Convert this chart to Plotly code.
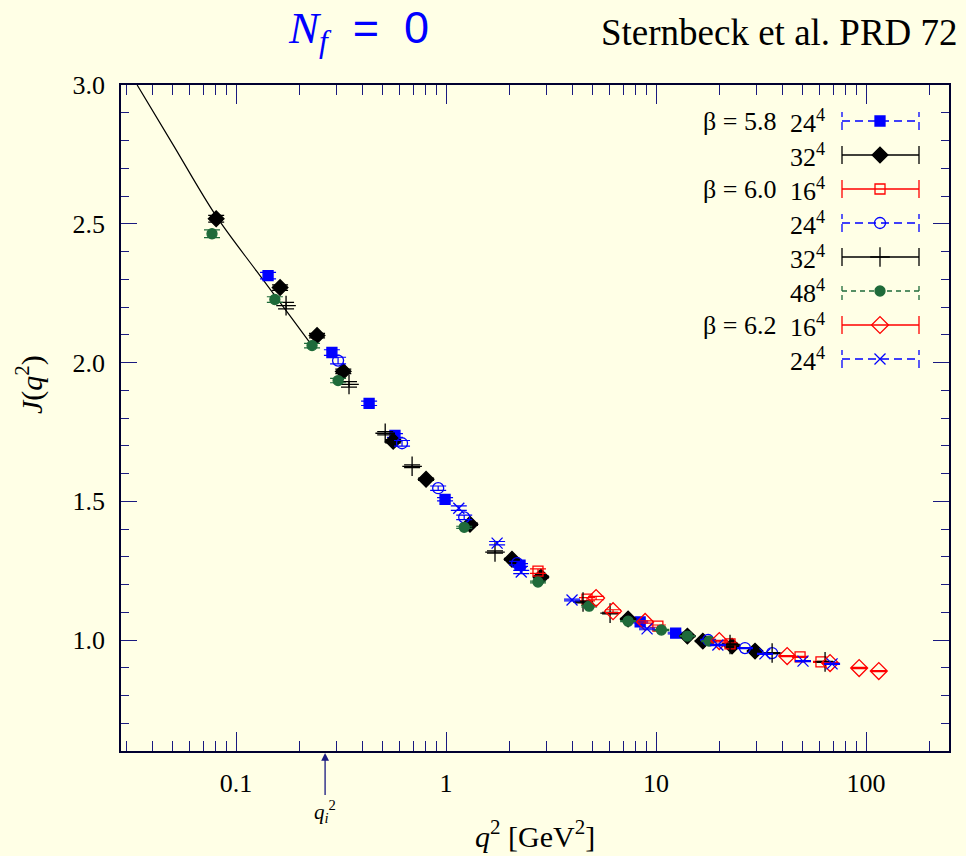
import math
import plotly.graph_objects as go

# ---------------- data: q^2 [GeV^2] and J(q^2) ----------------
# beta = 5.8, 24^4  (blue filled squares)
q_b58_24 = [0.142, 0.286, 0.430, 0.571, 0.989, 2.25, 8.4, 12.4]
j_b58_24 = [2.313, 2.036, 1.853, 1.737, 1.507, 1.270, 1.065, 1.025]
e_b58_24 = [0.012, 0.010, 0.008, 0.007, 0.006, 0.005, 0.003, 0.003]

# beta = 5.8, 32^4  (black diamonds)
q_b58_32 = [0.0804, 0.162, 0.243, 0.324, 0.560, 0.803, 1.30, 2.06, 2.83, 7.36, 14.1, 16.7, 23.0, 29.6]
j_b58_32 = [2.518, 2.270, 2.097, 1.968, 1.716, 1.579, 1.417, 1.291, 1.227, 1.076, 1.014, 0.996, 0.978, 0.960]
e_b58_32 = [0.012, 0.010, 0.008, 0.008, 0.006, 0.004, 0.004, 0.003, 0.003, 0.002, 0.002, 0.002, 0.002, 0.002]

# beta = 6.0, 16^4  (red open squares)
q_b60_16 = [2.74, 4.69, 10.2, 22.5, 48.5, 61.0]
j_b60_16 = [1.248, 1.147, 1.050, 0.986, 0.939, 0.921]
e_b60_16 = [0.008, 0.006, 0.004, 0.003, 0.002, 0.002]

# beta = 6.0, 24^4  (blue open circles)
q_b60_24 = [0.306, 0.617, 0.917, 1.22, 2.18, 17.7, 26.5, 35.7]
j_b60_24 = [2.007, 1.709, 1.547, 1.442, 1.277, 1.000, 0.971, 0.953]
e_b60_24 = [0.012, 0.010, 0.008, 0.008, 0.006, 0.002, 0.002, 0.002]

# beta = 6.0, 32^4  (black pluses)
q_b60_32 = [0.173, 0.345, 0.513, 0.689, 1.71, 4.49, 6.04, 22.5, 35.7, 63.8]
j_b60_32 = [2.205, 1.921, 1.745, 1.626, 1.317, 1.137, 1.097, 0.984, 0.953, 0.921]
e_b60_32 = [0.012, 0.010, 0.006, 0.005, 0.004, 0.003, 0.003, 0.002, 0.002, 0.002]

# beta = 6.0, 48^4  (green filled circles)
q_b60_48 = [0.0768, 0.153, 0.230, 0.306, 1.22, 2.74, 4.80, 7.36, 10.6, 14.1, 17.9]
j_b60_48 = [2.464, 2.227, 2.061, 1.935, 1.406, 1.209, 1.122, 1.068, 1.036, 1.014, 0.996]
e_b60_48 = [0.014, 0.010, 0.008, 0.008, 0.004, 0.003, 0.003, 0.002, 0.002, 0.002, 0.002]

# beta = 6.2, 16^4  (red open diamonds)
q_b62_16 = [5.18, 6.24, 8.87, 20.0, 42.1, 67.4, 92.7, 115.0]
j_b62_16 = [1.151, 1.104, 1.065, 0.996, 0.942, 0.917, 0.899, 0.888]
e_b62_16 = [0.006, 0.005, 0.004, 0.003, 0.002, 0.002, 0.002, 0.002]

# beta = 6.2, 24^4  (blue crosses)
q_b62_24 = [1.15, 1.75, 2.28, 3.98, 9.06, 19.7, 33.0, 50.1, 68.9]
j_b62_24 = [1.475, 1.349, 1.245, 1.144, 1.040, 0.982, 0.950, 0.924, 0.914]
e_b62_24 = [0.008, 0.006, 0.006, 0.003, 0.003, 0.002, 0.002, 0.002, 0.002]

# infrared fit curve
q_fit = [0.0338, 0.05, 0.08, 0.125, 0.18, 0.23]
j_fit = [3.0, 2.786, 2.53, 2.33, 2.17, 2.061]

# q_i^2 marker on the x axis
q_i2 = 0.254

x_ticks = [0.1, 1, 10, 100]
x_ticktext = ["0.1", "1", "10", "100"]
y_ticks = [1.0, 1.5, 2.0, 2.5, 3.0]
y_ticktext = ["1.0", "1.5", "2.0", "2.5", "3.0"]

legend_beta = ["β = 5.8", "", "β = 6.0", "", "", "", "β = 6.2", ""]
legend_lat = ["24", "32", "16", "24", "32", "48", "16", "24"]

# ---------------- styles ----------------
BG = "#FFFFE6"
NAVY = "#1A1A80"
GREEN = "#1F6B3A"
SERIF = "Liberation Serif"

series = [
    (q_b58_24, j_b58_24, e_b58_24, "square", 10, "#0000FF", "8px,5px"),
    (q_b58_32, j_b58_32, e_b58_32, "diamond", 12, "#000000", "solid"),
    (q_b60_16, j_b60_16, e_b60_16, "square-open", 10, "#FF0000", "solid"),
    (q_b60_24, j_b60_24, e_b60_24, "circle-open", 11, "#0000FF", "8px,5px"),
    (q_b60_32, j_b60_32, e_b60_32, "cross-thin-open", 14, "#000000", "solid"),
    (q_b60_48, j_b60_48, e_b60_48, "circle", 10, GREEN, "5px,4px"),
    (q_b62_16, j_b62_16, e_b62_16, "diamond-open", 13, "#FF0000", "solid"),
    (q_b62_24, j_b62_24, e_b62_24, "x-thin-open", 11, "#0000FF", "8px,5px"),
]

fig = go.Figure()

fig.add_trace(go.Scatter(
    x=q_fit, y=j_fit, mode="lines", line=dict(color="black", width=1.2, shape="spline"),
    showlegend=False, hoverinfo="skip"))

for q, j, e, sym, size, col, dash in series:
    fig.add_trace(go.Scatter(
        x=q, y=j, mode="markers",
        marker=dict(symbol=sym, size=size, color=col,
                    line=dict(color=col, width=1.3)),
        error_y=dict(type="data", array=e, visible=True, color=col,
                     thickness=1.2, width=8),
        showlegend=False))

# ---------------- hand-drawn key (overlay axes spanning the plot area) ----------------
W, H = 966, 856
L, R, T, B = 121, 949, 85, 751
pw, ph = R - L, B - T


def px_x(px):
    return (px - L) / pw


def px_y(py):
    return (B - py) / ph


xl, xm, xr = px_x(842), px_x(880), px_x(919)
cap = 9 / ph
for i, (q, j, e, sym, size, col, dash) in enumerate(series):
    yy = px_y(121 + 34 * i)
    fig.add_trace(go.Scatter(
        x=[xl, xr, None, xl, xl, None, xr, xr],
        y=[yy, yy, None, yy - cap, yy + cap, None, yy - cap, yy + cap],
        xaxis="x2", yaxis="y2", mode="lines",
        line=dict(color=col, width=1.3, dash=dash),
        showlegend=False, hoverinfo="skip"))
    fig.add_trace(go.Scatter(
        x=[xm], y=[yy], xaxis="x2", yaxis="y2", mode="markers",
        marker=dict(symbol=sym, size=size, color=col, line=dict(color=col, width=1.3)),
        showlegend=False, hoverinfo="skip"))
    fig.add_annotation(
        x=px_x(827), y=yy, xref="x2", yref="y2", xanchor="right", yanchor="middle",
        text=f"{legend_lat[i]}<sup>4</sup>", showarrow=False,
        font=dict(family=SERIF, size=26, color="black"))
    if legend_beta[i]:
        fig.add_annotation(
            x=px_x(778), y=yy, xref="x2", yref="y2", xanchor="right", yanchor="middle",
            text=legend_beta[i], showarrow=False,
            font=dict(family=SERIF, size=26, color="black"))

minor_x = [m * 10 ** k for k in range(-2, 3) for m in range(2, 10)]

fig.update_layout(
    width=W, height=H,
    margin=dict(l=L, r=W - R, t=T, b=H - B),
    paper_bgcolor=BG, plot_bgcolor=BG,
    font=dict(family=SERIF, size=26, color="black"),
    xaxis=dict(
        type="log", range=[-1.548, 2.395],
        tickvals=x_ticks, ticktext=x_ticktext,
        ticks="inside", ticklen=19, tickwidth=1.3, tickcolor=NAVY,
        showline=True, linecolor="#000030", linewidth=1.6, mirror="ticks",
        showgrid=False, zeroline=False, ticklabelstandoff=8,
        minor=dict(tickvals=minor_x, ticks="inside", ticklen=10,
                   tickwidth=1.2, tickcolor=NAVY, showgrid=False),
    ),
    yaxis=dict(
        range=[0.6, 3.0],
        tickvals=y_ticks, ticktext=y_ticktext,
        ticks="inside", ticklen=16, tickwidth=1.3, tickcolor=NAVY,
        showline=True, linecolor="#000030", linewidth=1.6, mirror="ticks",
        showgrid=False, zeroline=False, ticklabelstandoff=9,
        minor=dict(dtick=0.1, ticks="inside", ticklen=8,
                   tickwidth=1.2, tickcolor=NAVY, showgrid=False),
    ),
    xaxis2=dict(overlaying="x", range=[0, 1], visible=False, fixedrange=True),
    yaxis2=dict(overlaying="y", range=[0, 1], visible=False, fixedrange=True),
)

# titles
fig.add_annotation(
    x=(358 - L) / pw, y=1 + (T - 30) / ph, xref="paper", yref="paper",
    xanchor="center", yanchor="middle", showarrow=False,
    text="<i>N</i><sub><i>f</i></sub><span style='font-family:Liberation Sans'>"
         "&nbsp;&nbsp;=&nbsp;&nbsp;0</span>",
    font=dict(family=SERIF, size=45, color="#0000FF"))
fig.add_annotation(
    x=(960 - L) / pw, y=1 + (T - 32) / ph, xref="paper", yref="paper",
    xanchor="right", yanchor="middle", showarrow=False,
    text="Sternbeck et al. PRD 72",
    font=dict(family=SERIF, size=37, color="black"))
fig.add_annotation(
    x=(535 - L) / pw, y=-(834 - B) / ph, xref="paper", yref="paper",
    xanchor="center", yanchor="middle", showarrow=False,
    text="<i>q</i><sup>2</sup> [GeV<sup>2</sup>]",
    font=dict(family=SERIF, size=30, color="black"))
fig.add_annotation(
    x=-(L - 30) / pw, y=(B - 385) / ph, xref="paper", yref="paper",
    xanchor="center", yanchor="middle", showarrow=False, textangle=-90,
    text="<i>J</i>(<i>q</i><sup>2</sup>)",
    font=dict(family=SERIF, size=30, color="black"))

# q_i^2 arrow below the axis
fig.add_annotation(
    x=math.log10(q_i2), y=0, xref="x", yref="paper",
    ax=0, ay=44, axref="pixel", ayref="pixel",
    showarrow=True, arrowhead=2, arrowsize=1.2, arrowwidth=1.3, arrowcolor=NAVY,
    standoff=2, text="<i>q</i><sub><i>i</i></sub><sup>2</sup>", yanchor="top",
    xshift=4, font=dict(family=SERIF, size=21, color="black"))

fig.write_html("out.html")
